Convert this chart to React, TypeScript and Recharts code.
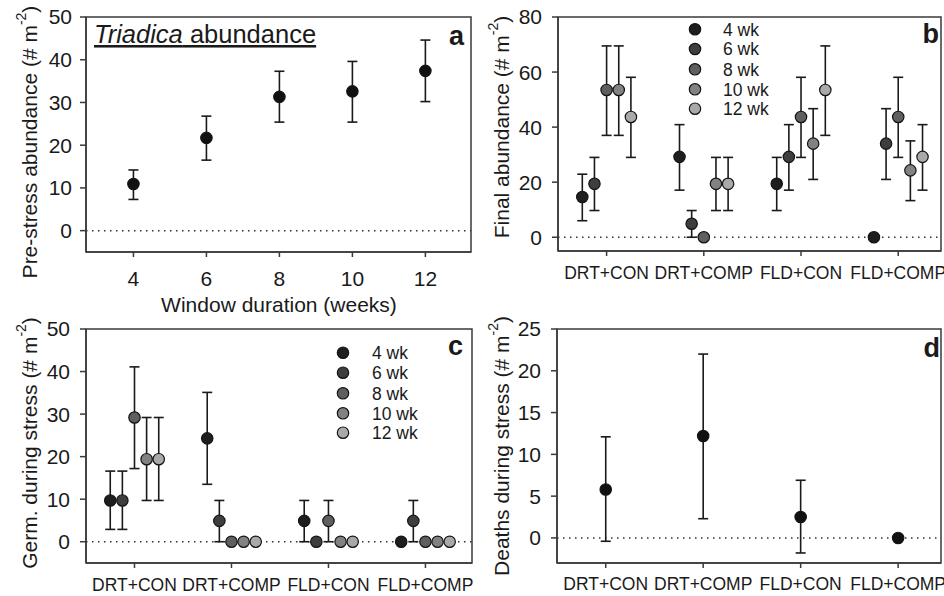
import React from 'react';
import { ScatterChart, Scatter, XAxis, YAxis, ErrorBar, ReferenceLine, ReferenceArea } from 'recharts';

// ---------- data ----------
const weeks = [4, 6, 8, 10, 12];
const preMean = [10.9, 21.7, 31.3, 32.6, 37.4];
const preLow = [7.3, 16.5, 25.4, 25.4, 30.2];
const preHigh = [14.2, 26.8, 37.3, 39.6, 44.6];

const treatments = ['DRT+CON', 'DRT+COMP', 'FLD+CON', 'FLD+COMP'];
const windowLabels = ['4 wk', '6 wk', '8 wk', '10 wk', '12 wk'];

// rows = window (4,6,8,10,12 wk), columns = treatments
const finalMean = [
  [14.6, 29.2, 19.4, 0],
  [19.4, 4.9, 29.2, 34.0],
  [53.5, 0, 43.7, 43.7],
  [53.5, 19.4, 34.0, 24.3],
  [43.7, 19.4, 53.5, 29.2],
];
const finalLow = [
  [6.0, 17.1, 9.7, 0],
  [9.7, 0, 17.1, 21.0],
  [37.0, 0, 29.0, 29.0],
  [37.0, 9.7, 21.0, 13.3],
  [29.0, 9.7, 37.0, 17.1],
];
const finalHigh = [
  [22.9, 40.9, 29.0, 0],
  [29.0, 9.7, 40.9, 46.7],
  [69.5, 0, 58.1, 58.1],
  [69.5, 29.0, 46.7, 35.0],
  [58.1, 29.0, 69.5, 40.9],
];

const germMean = [
  [9.7, 24.3, 4.9, 0],
  [9.7, 4.9, 0, 4.9],
  [29.2, 0, 4.9, 0],
  [19.4, 0, 0, 0],
  [19.4, 0, 0, 0],
];
const germLow = [
  [2.9, 13.5, 0, 0],
  [2.9, 0, 0, 0],
  [17.2, 0, 0, 0],
  [9.7, 0, 0, 0],
  [9.7, 0, 0, 0],
];
const germHigh = [
  [16.6, 35.1, 9.7, 0],
  [16.6, 9.7, 0, 9.7],
  [41.1, 0, 9.7, 0],
  [29.2, 0, 0, 0],
  [29.2, 0, 0, 0],
];

const deathMean = [5.8, 12.2, 2.5, 0];
const deathLow = [-0.4, 2.3, -1.8, 0];
const deathHigh = [12.1, 22.0, 6.9, 0];

// ---------- styles ----------
const FONT = "'Liberation Sans', Arial, Helvetica, sans-serif";
const INK = '#1a1a1a';
const AXIS = '#3a3a3a';
const windowColors = ['#1e1e1e', '#3e3e3e', '#5f5f5f', '#828282', '#a9a9a9'];
const dodge = [-0.25, -0.125, 0, 0.125, 0.25];

const errOf = (m: number, lo: number, hi: number) =>
  lo === m && hi === m ? null : [m - lo, hi - m];

const dotShape = (fill: string) => (props: any) =>
  <circle cx={props.cx} cy={props.cy} r={5.7} fill={fill} stroke="#141414" strokeWidth={1.2} />;

const groupedSeries = (mean: number[][], low: number[][], high: number[][]) =>
  mean.map((row, i) =>
    row.map((m, j) => ({ x: j + 1 + dodge[i], y: m, err: errOf(m, low[i][j], high[i][j]) }))
  );

const preData = weeks.map((w, i) => ({ x: w, y: preMean[i], err: errOf(preMean[i], preLow[i], preHigh[i]) }));
const finalSeries = groupedSeries(finalMean, finalLow, finalHigh);
const germSeries = groupedSeries(germMean, germLow, germHigh);
const deathData = treatments.map((t, j) => ({ x: j + 1, y: deathMean[j], err: errOf(deathMean[j], deathLow[j], deathHigh[j]) }));

const YTitle = ({ x, y, text }: { x: number; y: number; text: string }) => (
  <text transform={`translate(${x},${y}) rotate(-90)`} textAnchor="middle" fontSize={21} fill={INK} fontFamily={FONT}>
    {text}
    <tspan dy={-11} fontSize={14}>-2</tspan>
    <tspan dy={11}>)</tspan>
  </text>
);

const PanelLetter = ({ x, y, t }: { x: number; y: number; t: string }) => (
  <text x={x} y={y} textAnchor="end" fontSize={27} fontWeight="bold" fill={INK} fontFamily={FONT}>{t}</text>
);

const LegendBox = ({ cx, tx, ys }: { cx: number; tx: number; ys: number[] }) => (
  <g>
    {windowLabels.map((l, i) => (
      <g key={l}>
        <circle cx={cx} cy={ys[i]} r={5.7} fill={windowColors[i]} stroke="#141414" strokeWidth={1.2} />
        <text x={tx} y={ys[i]} dy="0.36em" fontSize={17.5} fill={INK} fontFamily={FONT}>{l}</text>
      </g>
    ))}
  </g>
);

const xAxisCommon = {
  type: 'number' as const,
  dataKey: 'x',
  allowDataOverflow: true,
  interval: 0 as const,
  axisLine: { stroke: AXIS, strokeWidth: 1.5 },
  tickLine: { stroke: AXIS, strokeWidth: 1.5 },
  tickSize: 5,
};
const yAxisCommon = {
  type: 'number' as const,
  dataKey: 'y',
  allowDataOverflow: true,
  interval: 0 as const,
  axisLine: { stroke: AXIS, strokeWidth: 1.5 },
  tickLine: { stroke: AXIS, strokeWidth: 1.5 },
  tickSize: 6,
  tickMargin: 8,
  tick: { fontSize: 21, fill: INK },
};

const Frame = ({ xd, yd }: { xd: number[]; yd: number[] }) => (
  <ReferenceArea x1={xd[0]} x2={xd[1]} y1={yd[0]} y2={yd[1]} fill="none" fillOpacity={0} stroke={AXIS} strokeWidth={1.5} ifOverflow="visible" />
);

const catFmt = (v: number) => treatments[v - 1] ?? '';

export default function App() {
  const aX = [2.7, 13.25];
  const aY = [-5, 50];
  const bX = [0.5, 4.44];
  const bY = [-5, 80];
  const cX = [0.5, 4.48];
  const cY = [-5, 50];
  const dX = [0.5, 4.44];
  const dY = [-3, 25];

  return (
    <div style={{ position: 'absolute', left: 0, top: 0, width: 944, height: 596, overflow: 'hidden', background: '#fff', fontFamily: FONT }}>
      {/* Panel a */}
      <div style={{ position: 'absolute', left: 0, top: 0 }}>
        <ScatterChart width={480} height={320} margin={{ top: 17, right: 9, left: 0, bottom: 0 }}>
          <XAxis {...xAxisCommon} domain={aX} ticks={weeks} height={68} tickMargin={14} tick={{ fontSize: 21, fill: INK }} />
          <YAxis {...yAxisCommon} domain={aY} ticks={[0, 10, 20, 30, 40, 50]} width={86} />
          <Frame xd={aX} yd={aY} />
          <ReferenceLine y={0} stroke="#333" strokeWidth={1.5} strokeDasharray="1.5 4.5" />
          <Scatter data={preData} isAnimationActive={false} shape={dotShape('#111')}>
            <ErrorBar dataKey="err" direction="y" width={5} stroke={INK} strokeWidth={1.6} />
          </Scatter>
          <YTitle x={37} y={142} text="Pre-stress abundance (# m" />
          <PanelLetter x={464} y={45} t="a" />
          <text x={94} y={43} fontSize={25.5} fill={INK} fontFamily={FONT} style={{ textDecoration: 'underline' }}>
            <tspan fontStyle="italic">Triadica</tspan> abundance
          </text>
          <text x={279} y={312} textAnchor="middle" fontSize={21} fill={INK} fontFamily={FONT}>Window duration (weeks)</text>
        </ScatterChart>
      </div>

      {/* Panel b */}
      <div style={{ position: 'absolute', left: 470, top: 0 }}>
        <ScatterChart width={474} height={300} margin={{ top: 17, right: 3, left: 0, bottom: 0 }}>
          <XAxis {...xAxisCommon} domain={bX} ticks={[1, 2, 3, 4]} tickFormatter={catFmt} height={49} tickMargin={11} tick={{ fontSize: 17.5, fill: INK }} />
          <YAxis {...yAxisCommon} domain={bY} ticks={[0, 20, 40, 60, 80]} width={88} tickMargin={10} />
          <Frame xd={bX} yd={bY} />
          <ReferenceLine y={0} stroke="#333" strokeWidth={1.5} strokeDasharray="1.5 4.5" />
          {finalSeries.map((d, i) => (
            <Scatter key={i} name={windowLabels[i]} data={d} isAnimationActive={false} shape={dotShape(windowColors[i])}>
              <ErrorBar dataKey="err" direction="y" width={5} stroke={INK} strokeWidth={1.6} />
            </Scatter>
          ))}
          <YTitle x={39} y={127} text="Final abundance (# m" />
          <PanelLetter x={469} y={43} t="b" />
          <LegendBox cx={225} tx={253} ys={[29.3, 49, 69.3, 89.3, 108.7]} />
        </ScatterChart>
      </div>

      {/* Panel c */}
      <div style={{ position: 'absolute', left: 0, top: 290 }}>
        <ScatterChart width={480} height={306} margin={{ top: 39, right: 8, left: 0, bottom: 0 }}>
          <XAxis {...xAxisCommon} domain={cX} ticks={[1, 2, 3, 4]} tickFormatter={catFmt} height={33} tickMargin={11} tick={{ fontSize: 17.5, fill: INK }} />
          <YAxis {...yAxisCommon} domain={cY} ticks={[0, 10, 20, 30, 40, 50]} width={86} tickMargin={10} />
          <Frame xd={cX} yd={cY} />
          <ReferenceLine y={0} stroke="#333" strokeWidth={1.5} strokeDasharray="1.5 4.5" />
          {germSeries.map((d, i) => (
            <Scatter key={i} name={windowLabels[i]} data={d} isAnimationActive={false} shape={dotShape(windowColors[i])}>
              <ErrorBar dataKey="err" direction="y" width={5} stroke={INK} strokeWidth={1.6} />
            </Scatter>
          ))}
          <YTitle x={37} y={153} text="Germ. during stress (# m" />
          <PanelLetter x={463} y={65} t="c" />
          <LegendBox cx={343} tx={372} ys={[62.7, 82.7, 103.3, 123.3, 142.7]} />
        </ScatterChart>
      </div>

      {/* Panel d */}
      <div style={{ position: 'absolute', left: 470, top: 290 }}>
        <ScatterChart width={474} height={306} margin={{ top: 39, right: 3, left: 0, bottom: 0 }}>
          <XAxis {...xAxisCommon} domain={dX} ticks={[1, 2, 3, 4]} tickFormatter={catFmt} height={33} tickMargin={10} tick={{ fontSize: 17.5, fill: INK }} />
          <YAxis {...yAxisCommon} domain={dY} ticks={[0, 5, 10, 15, 20, 25]} width={87} tickMargin={10} />
          <Frame xd={dX} yd={dY} />
          <ReferenceLine y={0} stroke="#333" strokeWidth={1.5} strokeDasharray="1.5 4.5" />
          <Scatter data={deathData} isAnimationActive={false} shape={dotShape('#111')}>
            <ErrorBar dataKey="err" direction="y" width={5} stroke={INK} strokeWidth={1.6} />
          </Scatter>
          <YTitle x={39} y={156} text="Deaths during stress (# m" />
          <PanelLetter x={470} y={67} t="d" />
        </ScatterChart>
      </div>
    </div>
  );
}
